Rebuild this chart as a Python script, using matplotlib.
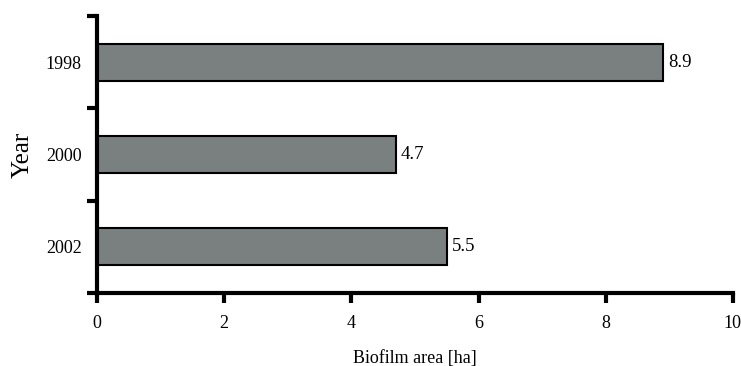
import matplotlib
matplotlib.use("Agg")
import matplotlib.pyplot as plt

years = ["1998", "2000", "2002"]
area = [8.9, 4.7, 5.5]

plt.rcParams["font.family"] = ["Liberation Serif", "DejaVu Serif"]

fig = plt.figure(figsize=(7.41, 3.66), dpi=100)
ax = fig.add_axes([0.131, 0.1995, 0.858, 0.7565])

pos = list(range(len(years)))
ax.barh(pos, area, height=0.4, color="#7a8080", edgecolor="black", linewidth=1.5)
for p, v in zip(pos, area):
    ax.text(v + 0.08, p, f"{v}", va="center", ha="left", fontsize=13.5)

ax.set_ylim(2.5, -0.5)
ax.set_xlim(0, 10)
ax.set_xticks([0, 2, 4, 6, 8, 10])
ax.set_yticks(pos)
ax.set_yticklabels(years)
ax.set_yticks([-0.5, 0.5, 1.5, 2.5], minor=True)
ax.tick_params(axis="y", which="major", length=0, pad=11, labelsize=13)
ax.tick_params(axis="y", which="minor", length=7, width=3, direction="out")
ax.tick_params(axis="x", length=7, width=3, direction="out", pad=9, labelsize=13)

for s in ("top", "right"):
    ax.spines[s].set_visible(False)
for s in ("left", "bottom"):
    ax.spines[s].set_linewidth(3)

ax.set_xlabel("Biofilm area [ha]", fontsize=13, labelpad=13)
ax.set_ylabel("Year", fontsize=18, labelpad=9)

fig.savefig("out.png", dpi=100)
